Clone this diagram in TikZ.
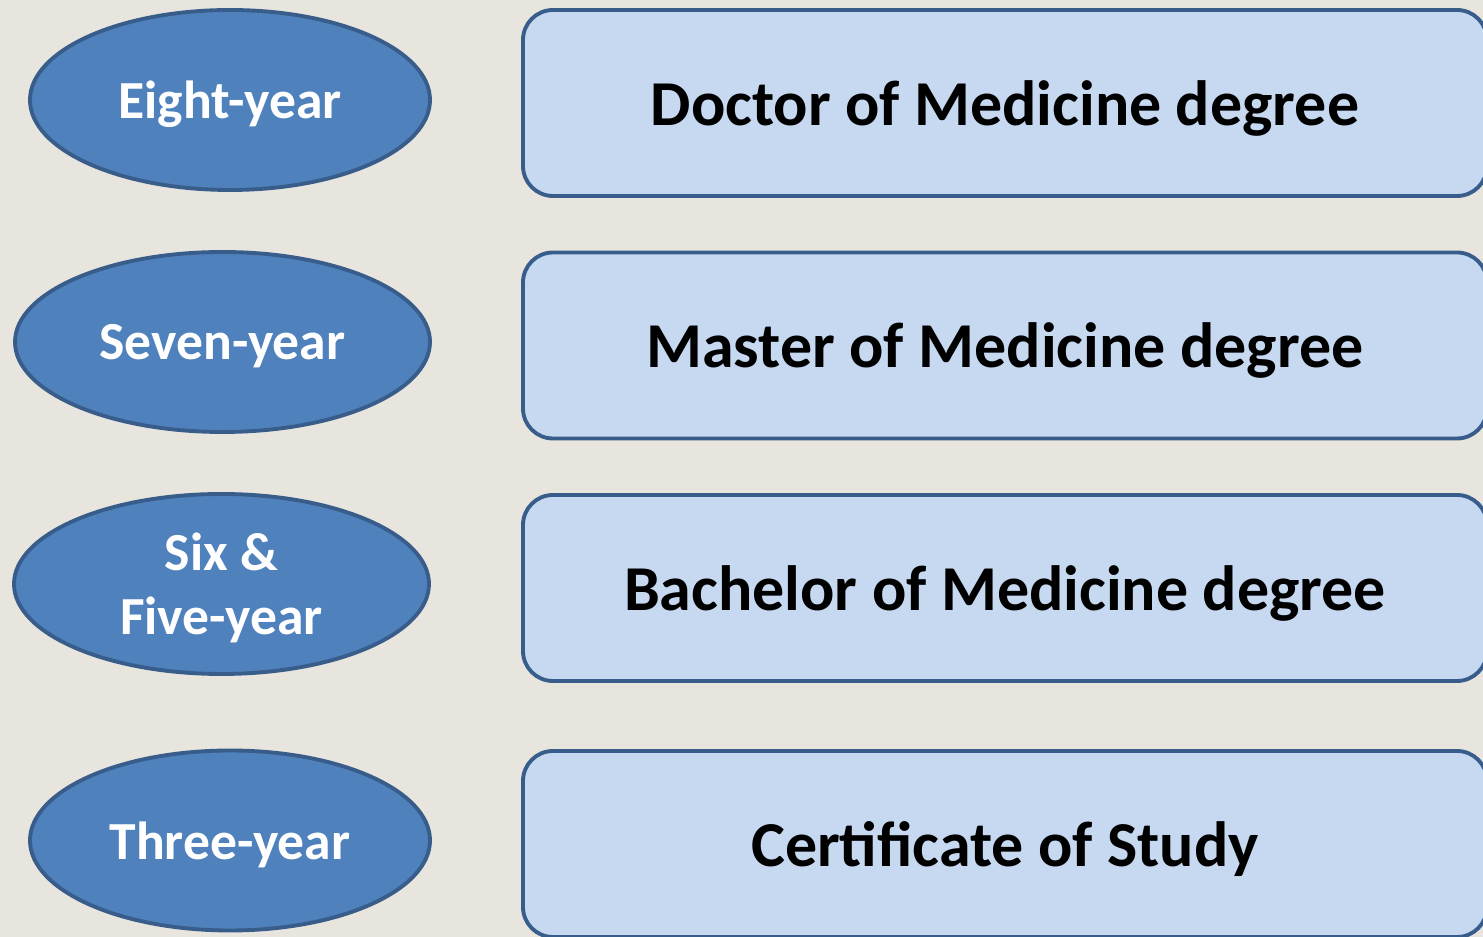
\documentclass[tikz,border=0pt]{standalone}
\usepackage{fontspec}
\setmainfont{Carlito}
\usetikzlibrary{positioning,shapes.geometric}
\definecolor{palPaper}{HTML}{E8E5DE}
\definecolor{palBlue}{HTML}{4F81BD}
\definecolor{palBlueDk}{HTML}{385D8A}
\definecolor{palBlueLt}{HTML}{C6D9F1}
\tikzset{
  yearnode/.style={draw=palBlueDk, fill=palBlue, ellipse, line width=2.2pt,
                   inner sep=0pt, align=center, text=white, text depth=0pt,
                   font=\fontsize{30.5}{36.5}\selectfont\bfseries},
  degnode/.style={draw=palBlueDk, fill=palBlueLt, rounded corners=0.6cm,
                  line width=2.2pt, minimum width=19.28cm, minimum height=3.72cm,
                  inner sep=0pt, text depth=0pt,
                  font=\fontsize{36.4}{44}\selectfont\bfseries},
}
\begin{document}
\begin{tikzpicture}
\def\xDeg{20.10}   % x-position of degree boxes
%% paper background fixes the margins
\fill[palPaper] (0,0) rectangle (29.66,18.74);
\useasboundingbox (0,0) rectangle (29.66,18.74);

%% Nodes -- each row: index / ellipse x / ellipse y / ellipse width / box y / labels
\foreach \row/\xYr/\yYr/\wYr/\yDeg/\lblYr/\lblDeg in {
  0/4.60/16.74/8.0/16.68/{Eight-year}/{Doctor of Medicine degree},
  1/4.45/11.90/8.3/11.83/{Seven-year}/{Master of Medicine degree},
  2/4.43/7.06/8.3/6.98/{Six \&\\Five-year}/{Bachelor of Medicine degree},
  3/4.60/1.93/8.0/1.86/{Three-year}/{Certificate of Study}%
} {
  \node[yearnode, minimum width=\wYr cm, minimum height=3.6cm] (yr\row) at (\xYr, \yYr) {\lblYr};
  \node[degnode] (deg\row) at (\xDeg, \yDeg) {\lblDeg};
}
\end{tikzpicture}
\end{document}
